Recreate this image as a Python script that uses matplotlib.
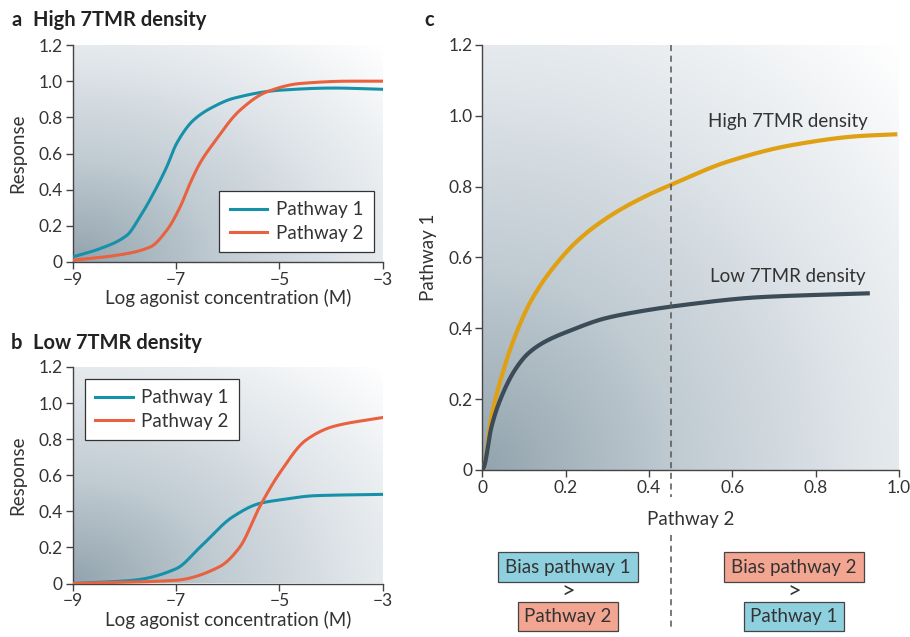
import numpy as np
import matplotlib
matplotlib.use("Agg")
import matplotlib.pyplot as plt
from matplotlib.colors import LinearSegmentedColormap
from matplotlib.patches import Rectangle

plt.rcParams['font.family'] = ['Lato', 'DejaVu Sans']

# panel a: high 7TMR density
a_x1 = [-9, -8.47, -7.95, -7.7, -7.44, -7.18, -6.99, -6.66, -6.28, -5.89, -4.99, -3.95, -3]
a_y1 = [0.028, 0.074, 0.148, 0.249, 0.378, 0.526, 0.655, 0.785, 0.858, 0.905, 0.95, 0.962, 0.955]
a_x2 = [-9, -8.15, -7.5, -7.18, -6.92, -6.73, -6.54, -6.28, -5.76, -5.25, -4.6, -3.63, -3]
a_y2 = [0.01, 0.037, 0.083, 0.175, 0.305, 0.434, 0.545, 0.655, 0.84, 0.94, 0.987, 1.0, 1.0]

# panel b: low 7TMR density
b_x1 = [-9, -7.83, -6.99, -6.54, -5.9, -5.38, -5.0, -4.29, -3]
b_y1 = [0.0, 0.018, 0.083, 0.2, 0.37, 0.444, 0.463, 0.487, 0.494]
b_x2 = [-9, -7.0, -6.16, -5.77, -5.38, -5.0, -4.48, -3.96, -3]
b_y2 = [0.0, 0.018, 0.093, 0.2, 0.426, 0.61, 0.796, 0.87, 0.92]

# panel c: pathway 1 vs pathway 2
high_x = [0.0, 0.004, 0.022, 0.046, 0.078, 0.118, 0.166, 0.23, 0.31, 0.39, 0.47,
          0.587, 0.746, 0.906, 0.996]
high_y = [0.0, 0.009, 0.15, 0.263, 0.376, 0.48, 0.565, 0.649, 0.72, 0.772, 0.814,
          0.87, 0.918, 0.943, 0.948]
low_x = [0.0, 0.004, 0.022, 0.046, 0.078, 0.11, 0.15, 0.214, 0.294, 0.374, 0.47, 0.666, 0.93]
low_y = [0.0, 0.009, 0.122, 0.207, 0.282, 0.329, 0.362, 0.395, 0.428, 0.447, 0.464, 0.488, 0.499]
bias_x = 0.452

conc_ticks = [-9, -7, -5, -3]
resp_ticks = [0, 0.2, 0.4, 0.6, 0.8, 1.0, 1.2]
c_xticks = [0, 0.2, 0.4, 0.6, 0.8, 1.0]

teal = '#1791aa'
red = '#e8623f'
gold = '#e0a014'
slate = '#3b4b57'
axcol = '#444444'
txt = '#333333'

bg_cmap = LinearSegmentedColormap.from_list(
    'bg', ['#93a4ae', '#c0cbd2', '#e2e7eb', '#ffffff'])


def pchip(xs, ys, n=500):
    # monotone cubic through the read points
    x = np.asarray(xs, float)
    y = np.asarray(ys, float)
    h = np.diff(x)
    d = np.diff(y) / h
    m = np.zeros_like(x)
    m[0], m[-1] = d[0], d[-1]
    for i in range(1, len(x) - 1):
        if d[i - 1] * d[i] <= 0:
            m[i] = 0
        else:
            w1 = 2 * h[i] + h[i - 1]
            w2 = h[i] + 2 * h[i - 1]
            m[i] = (w1 + w2) / (w1 / d[i - 1] + w2 / d[i])
    xx = np.linspace(x[0], x[-1], n)
    k = np.clip(np.searchsorted(x, xx) - 1, 0, len(x) - 2)
    t = (xx - x[k]) / h[k]
    h00 = 2 * t ** 3 - 3 * t ** 2 + 1
    h10 = t ** 3 - 2 * t ** 2 + t
    h01 = -2 * t ** 3 + 3 * t ** 2
    h11 = t ** 3 - t ** 2
    yy = h00 * y[k] + h10 * h[k] * m[k] + h01 * y[k + 1] + h11 * h[k] * m[k + 1]
    return xx, yy


def background(ax, x0, x1, y0, y1):
    u = np.linspace(0, 1, 300)
    U, V = np.meshgrid(u, u)
    d = np.sqrt(U ** 2 + V ** 2) / np.sqrt(2)
    ax.imshow(d, extent=[x0, x1, y0, y1], origin='lower', aspect='auto',
              cmap=bg_cmap, vmin=0, vmax=1, zorder=0, interpolation='bilinear')


def style(ax):
    for s in ['top', 'right']:
        ax.spines[s].set_visible(False)
    for s in ['left', 'bottom']:
        ax.spines[s].set_color(axcol)
        ax.spines[s].set_linewidth(1.0)
    ax.tick_params(direction='out', length=5, width=1, color=axcol,
                   labelsize=12.5, labelcolor=txt, pad=2)


def fmt(v):
    return '0' if v == 0 else f'{v:.1f}'


fig = plt.figure(figsize=(9.1, 6.37), dpi=100)
W, H = 910, 637


def add_ax(l, r, t, b):
    return fig.add_axes([l / W, 1 - b / H, (r - l) / W, (b - t) / H])


panels = [
    (add_ax(72.7, 382.7, 45, 262), a_x1, a_y1, a_x2, a_y2, 'lower right', (373.5, 252)),
    (add_ax(72.7, 382.7, 367, 583.5), b_x1, b_y1, b_x2, b_y2, 'upper left', (85, 379)),
]
for ax, x1, y1, x2, y2, loc, anchor in panels:
    background(ax, -9, -3, 0, 1.2)
    sx, sy = pchip(x1, y1)
    ax.plot(sx, sy, color=teal, lw=2.2, label='Pathway 1', zorder=3)
    sx, sy = pchip(x2, y2)
    ax.plot(sx, sy, color=red, lw=2.2, label='Pathway 2', zorder=3)
    ax.set_xlim(-9, -3)
    ax.set_ylim(0, 1.2)
    ax.set_xticks(conc_ticks)
    ax.set_xticklabels([f'\u2212{abs(v)}' for v in conc_ticks])
    ax.set_yticks(resp_ticks)
    ax.set_yticklabels([fmt(v) for v in resp_ticks])
    ax.set_xlabel('Log agonist concentration (M)', fontsize=13.5, color=txt, labelpad=1)
    ax.set_ylabel('Response', fontsize=13.5, color=txt, labelpad=9)
    style(ax)
    leg = ax.legend(loc=loc, bbox_to_anchor=(anchor[0] / W, 1 - anchor[1] / H),
                    bbox_transform=fig.transFigure, fontsize=13.5, frameon=True,
                    fancybox=False, handlelength=2.0, borderpad=0.55,
                    labelspacing=0.35, handletextpad=0.45, borderaxespad=0)
    leg.get_frame().set_edgecolor(txt)
    leg.get_frame().set_linewidth(0.9)
    leg.get_frame().set_facecolor('white')
    leg.get_frame().set_alpha(1)
    for t in leg.get_texts():
        t.set_color(txt)

ttl = dict(fontsize=14.5, fontweight='bold', va='center', color='#222222')
fig.text(11 / W, 1 - 20 / H, 'a', **ttl)
fig.text(33 / W, 1 - 20 / H, 'High 7TMR density', **ttl)
fig.text(11 / W, 1 - 343 / H, 'b', **ttl)
fig.text(33 / W, 1 - 343 / H, 'Low 7TMR density', **ttl)
fig.text(424 / W, 1 - 20 / H, 'c', **ttl)

# panel c
axc = add_ax(482.3, 899, 45, 470)
background(axc, 0, 1.0, 0, 1.2)
sx, sy = pchip(high_x, high_y)
axc.plot(sx, sy, color=gold, lw=3, zorder=3, solid_capstyle='butt')
sx, sy = pchip(low_x, low_y)
axc.plot(sx, sy, color=slate, lw=3, zorder=3, solid_capstyle='butt')
axc.set_xlim(0, 1.0)
axc.set_ylim(0, 1.2)
axc.set_xticks(c_xticks)
axc.set_xticklabels([fmt(v) for v in c_xticks])
axc.set_yticks(resp_ticks)
axc.set_yticklabels([fmt(v) for v in resp_ticks])
axc.set_xlabel('Pathway 2', fontsize=13.5, color=txt, labelpad=11)
axc.set_ylabel('Pathway 1', fontsize=13.5, color=txt, labelpad=8)
style(axc)
axc.text(0.925, 0.985, 'High 7TMR density', fontsize=13.5, color=txt, ha='right', va='center')
axc.text(0.92, 0.545, 'Low 7TMR density', fontsize=13.5, color=txt, ha='right', va='center')

tr = axc.get_xaxis_transform()
axc.plot([bias_x, bias_x], [1.0, -0.064], transform=tr, clip_on=False,
         color='#555555', lw=1.1, ls=(0, (4, 3)), zorder=4)
axc.plot([bias_x, bias_x], [-0.153, -0.376], transform=tr, clip_on=False,
         color='#555555', lw=1.1, ls=(0, (4, 3)), zorder=4)


def box(cx, cy, w, h, text, fc):
    p = Rectangle(((cx - w / 2) / W, 1 - (cy + h / 2) / H), w / W, h / H,
                  transform=fig.transFigure, facecolor=fc, edgecolor='#444444', lw=0.9)
    fig.add_artist(p)
    fig.text(cx / W, 1 - cy / H, text, fontsize=13.5, color=txt,
             ha='center', va='center')


box_teal = '#8fd0de'
box_red = '#f2a590'
box(568, 567, 140, 30, 'Bias pathway 1', box_teal)
box(568, 616.5, 100, 29, 'Pathway 2', box_red)
fig.text(568 / W, 1 - 592 / H, '>', fontsize=17, color=txt, ha='center', va='center')
box(794, 567, 140, 30, 'Bias pathway 2', box_red)
box(794, 616.5, 100, 29, 'Pathway 1', box_teal)
fig.text(794 / W, 1 - 592 / H, '>', fontsize=17, color=txt, ha='center', va='center')

fig.savefig('out.png', dpi=100, facecolor='white')
